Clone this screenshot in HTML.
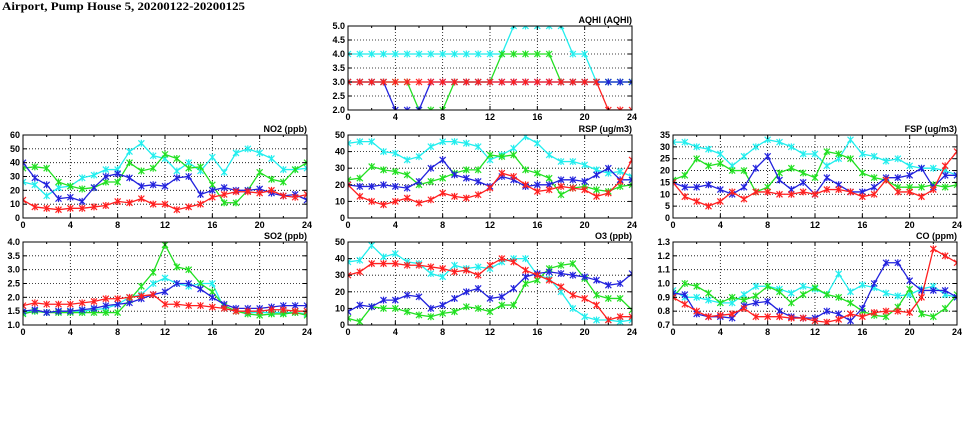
<!DOCTYPE html>
<html><head><meta charset="utf-8"><style>
html,body{margin:0;padding:0;background:#fff;width:975px;height:447px;overflow:hidden}
svg text{font-family:"Liberation Sans",sans-serif;font-weight:bold;font-size:9px;fill:#000}
</style></head><body>
<svg id="s" width="975" height="447" xmlns="http://www.w3.org/2000/svg">
<text x="2" y="10" textLength="243" lengthAdjust="spacingAndGlyphs" style="font-family:'Liberation Serif',serif;font-size:12px">Airport, Pump House 5, 20200122-20200125</text>
</svg>
<script>
const C={r:"#ff2020",b:"#2222dd",g:"#22e022",c:"#22eeee"};
const P=[
{t:"AQHI (AQHI)",x:348,y:26,w:284,h:84,min:2,max:5,st:0.5,f:1,
 d:{c:[4,4,4,4,4,4,4,4,4,4,4,4,4,4,5,5,5,5,5,4,4,3,3,3,3],
    g:[3,3,3,3,3,3,2,2,2,3,3,3,3,4,4,4,4,4,3,3,3,3,3,3,3],
    b:[3,3,3,3,2,2,2,3,3,3,3,3,3,3,3,3,3,3,3,3,3,3,3,3,3],
    r:[3,3,3,3,3,3,3,3,3,3,3,3,3,3,3,3,3,3,3,3,3,3,2,2,2]}},
{t:"NO2 (ppb)",x:23,y:135,w:284,h:83,min:0,max:60,st:10,f:0,
 d:{c:[26,24,16,22,23,29,31,35,35,48,54,45,43,34,40,34,44,33,47,50,47,43,35,35,36],
    g:[36,37,36,26,23,21,22,26,26,40,34,36,46,43,36,37,24,11,11,20,33,28,26,35,40],
    b:[40,29,24,14,15,12,22,30,32,29,23,24,23,29,30,17,20,22,20,20,21,18,16,17,13],
    r:[13,8,7,6,7,7,8,9,12,11,14,10,10,6,8,10,15,17,19,19,18,20,16,15,17]}},
{t:"RSP (ug/m3)",x:348,y:135,w:284,h:83,min:0,max:50,st:10,f:0,
 d:{c:[45,46,46,40,39,35,37,43,46,46,45,43,35,38,42,49,45,38,34,34,32,29,27,28,25],
    g:[23,24,31,29,28,26,20,22,24,27,29,29,38,37,38,29,27,24,14,18,19,17,16,19,20],
    b:[20,19,19,20,19,18,22,30,35,26,24,22,19,25,23,19,20,20,23,23,22,26,30,23,23],
    r:[20,13,10,8,10,12,9,11,15,13,12,14,18,27,25,20,16,17,19,18,17,13,15,22,35]}},
{t:"FSP (ug/m3)",x:673,y:135,w:284,h:83,min:0,max:35,st:5,f:0,
 d:{c:[32,32,30,29,27,22,26,30,33,32,30,27,27,22,25,33,27,26,24,25,22,21,21,20,18],
    g:[16,18,25,22,23,20,20,11,13,19,21,19,17,28,27,25,19,17,16,13,13,13,14,13,14],
    b:[15,13,13,14,12,10,13,21,26,16,12,15,10,17,14,11,11,13,17,17,18,21,13,18,18],
    r:[15,9,7,5,7,11,8,11,11,10,10,11,10,12,12,11,9,10,16,11,11,9,12,22,28]}},
{t:"SO2 (ppb)",x:23,y:242,w:284,h:83,min:1,max:4,st:0.5,f:1,
 d:{c:[1.45,1.5,1.45,1.5,1.5,1.5,1.55,1.6,1.75,2.0,2.1,2.5,2.7,2.5,2.4,2.5,2.5,1.6,1.5,1.45,1.45,1.45,1.45,1.45,1.4],
    g:[1.4,1.5,1.45,1.45,1.45,1.45,1.45,1.45,1.45,1.9,2.4,2.9,3.9,3.1,3.0,2.5,2.2,1.7,1.5,1.4,1.35,1.4,1.4,1.45,1.35],
    b:[1.5,1.55,1.45,1.5,1.5,1.55,1.6,1.7,1.75,1.8,1.95,2.1,2.2,2.5,2.5,2.3,2.0,1.75,1.6,1.6,1.6,1.65,1.7,1.7,1.7],
    r:[1.7,1.8,1.75,1.75,1.75,1.8,1.85,1.95,1.95,2.0,2.05,2.1,1.75,1.75,1.7,1.7,1.65,1.6,1.5,1.5,1.5,1.55,1.55,1.5,1.5]}},
{t:"O3 (ppb)",x:348,y:242,w:284,h:83,min:0,max:50,st:10,f:0,
 d:{c:[38,39,48,41,43,38,37,31,29,36,34,35,34,38,40,40,30,28,20,10,5,3,3,2,3],
    g:[4,2,11,10,10,8,6,5,7,8,11,10,8,12,12,25,27,34,36,37,28,18,16,16,9],
    b:[8,12,11,15,15,18,17,10,12,16,20,22,16,17,22,29,31,32,31,30,29,27,24,25,31],
    r:[30,32,37,37,37,36,36,35,34,32,33,30,36,40,38,33,30,27,23,18,16,12,3,5,5]}},
{t:"CO (ppm)",x:673,y:242,w:284,h:83,min:0.7,max:1.3,st:0.1,f:1,
 d:{c:[0.95,0.9,0.9,0.88,0.86,0.86,0.92,0.98,0.98,0.96,0.93,0.98,0.96,0.92,1.07,0.94,0.99,0.97,0.93,0.91,0.92,0.96,0.98,0.92,0.9],
    g:[0.9,1.0,0.98,0.93,0.86,0.9,0.88,0.91,0.98,0.94,0.86,0.92,0.97,0.92,0.9,0.86,0.8,0.77,0.76,0.83,0.96,0.78,0.76,0.82,0.92],
    b:[0.93,0.92,0.78,0.76,0.76,0.75,0.84,0.86,0.87,0.8,0.76,0.75,0.75,0.8,0.78,0.73,0.82,1.0,1.15,1.15,1.02,0.95,0.95,0.95,0.9],
    r:[0.9,0.85,0.8,0.76,0.77,0.78,0.82,0.76,0.76,0.76,0.75,0.75,0.73,0.72,0.74,0.78,0.76,0.79,0.8,0.8,0.79,0.9,1.25,1.2,1.15]}}
];
let o="";
for(const p of P){
 const X=i=>p.x+p.w*i/24, Y=v=>p.y+p.h-(v-p.min)/(p.max-p.min)*p.h;
 o+=`<svg x="${p.x}" y="${p.y}" width="${p.w}" height="${p.h}" overflow="hidden"><g transform="translate(${-p.x},${-p.y})">`;
 const n=Math.round((p.max-p.min)/p.st);
 for(let k=1;k<n;k++){const y=Y(p.min+k*p.st);o+=`<line x1="${p.x}" x2="${p.x+p.w}" y1="${y}" y2="${y}" stroke="#000" stroke-width="0.8" stroke-dasharray="1,2"/>`;}
 for(let i=4;i<24;i+=4){o+=`<line x1="${X(i)}" x2="${X(i)}" y1="${p.y}" y2="${p.y+p.h}" stroke="#000" stroke-width="0.8" stroke-dasharray="1,2"/>`;}
 for(const k of ["c","g","b","r"]){
  const d=p.d[k];let pts=d.map((v,i)=>X(i)+","+Y(v)).join(" ");
  o+=`<polyline points="${pts}" fill="none" stroke="${C[k]}" stroke-width="1.3"/>`;
  d.forEach((v,i)=>{const x=X(i),y=Y(v);o+=`<path d="M${x-3},${y-3}L${x+3},${y+3}M${x-3},${y+3}L${x+3},${y-3}M${x},${y-3.5}V${y+3.5}" stroke="${C[k]}" stroke-width="1.2"/>`;});
 }
 o+=`</g></svg>`;
 o+=`<rect x="${p.x}" y="${p.y}" width="${p.w}" height="${p.h}" fill="none" stroke="#000" stroke-width="1"/>`;
 for(let k=0;k<=n;k++){const v=p.min+k*p.st,y=Y(v);
  o+=`<line x1="${p.x}" x2="${p.x+4}" y1="${y}" y2="${y}" stroke="#000"/><line x1="${p.x+p.w-4}" x2="${p.x+p.w}" y1="${y}" y2="${y}" stroke="#000"/>`;
  o+=`<text x="${p.x-3}" y="${y+3}" text-anchor="end">${v.toFixed(p.f)}</text>`;}
 for(let i=0;i<=24;i+=2){const x=X(i),l=i%4?2:4;
  o+=`<line x1="${x}" x2="${x}" y1="${p.y+p.h}" y2="${p.y+p.h-l}" stroke="#000"/><line x1="${x}" x2="${x}" y1="${p.y}" y2="${p.y+l}" stroke="#000"/>`;
  if(i%4==0)o+=`<text x="${x}" y="${p.y+p.h+10}" text-anchor="middle">${i}</text>`;}
 o+=`<text x="${p.x+p.w}" y="${p.y-3}" text-anchor="end">${p.t}</text>`;
}
document.getElementById("s").insertAdjacentHTML("beforeend",o);
</script>
</body></html>
